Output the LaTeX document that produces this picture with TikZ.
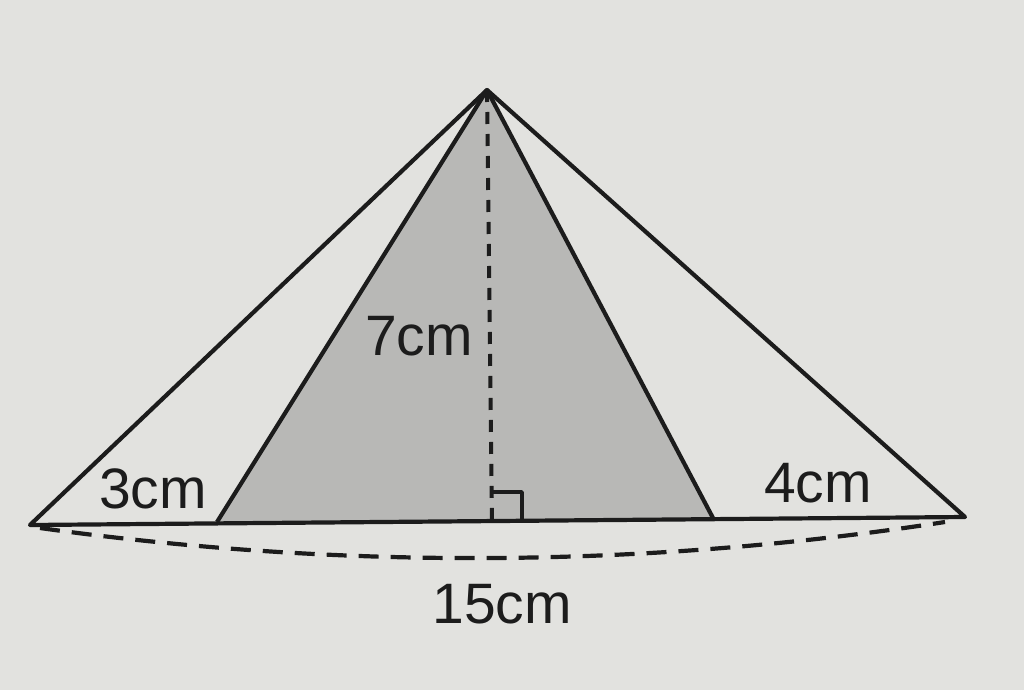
\documentclass[tikz,border=0pt]{standalone}
\usepackage{fontspec}
\setmainfont{Liberation Sans}
\definecolor{paper}{RGB}{226,226,223}
\definecolor{greyfill}{RGB}{184,184,182}
\definecolor{ink}{RGB}{28,28,28}
\begin{document}
\begin{tikzpicture}[x=1pt,y=-1pt,
  edge/.style={draw=ink,line width=4.2pt,line join=round},
  hidden/.style={draw=ink,line width=4pt,dash pattern=on 12pt off 10pt},
  arcdash/.style={draw=ink,line width=4.2pt,dash pattern=on 20pt off 12pt},
  lbl/.style={text=ink,font=\fontsize{57}{57}\selectfont,inner sep=0pt,anchor=base}]
\fill[paper] (0,0) rectangle (1024,690);
\useasboundingbox (0,0) rectangle (1024,690);
\coordinate (A) at (487,90);
\coordinate (B) at (30,525);
\coordinate (C) at (965,517);
\coordinate (D) at (217,522);
\coordinate (E) at (713,518);
\coordinate (H) at (492,520);
\coordinate (Ha) at (492,492);
\coordinate (Hb) at (522,492);
\coordinate (Hc) at (522,520);
\coordinate (P) at (40,528);
\coordinate (Q) at (945,522);
\fill[greyfill] (A) -- (D) -- (E) -- cycle;
\draw[hidden] (A) -- (H);
\draw[edge,line width=3.4pt] (Ha) -- (Hb) -- (Hc);
\draw[edge] (B) -- (A) -- (C) -- cycle;
\draw[edge] (D) -- (A) -- (E);
\draw[arcdash] (P) .. controls (343,570) and (645,568) .. (Q);
\node[lbl] (l3) at (153,508) {3cm};
\node[lbl] (l4) at (818,502) {4cm};
\node[lbl] (l7) at (419,355) {7cm};
\node[lbl] (l15) at (502,623) {15cm};
\end{tikzpicture}
\end{document}
